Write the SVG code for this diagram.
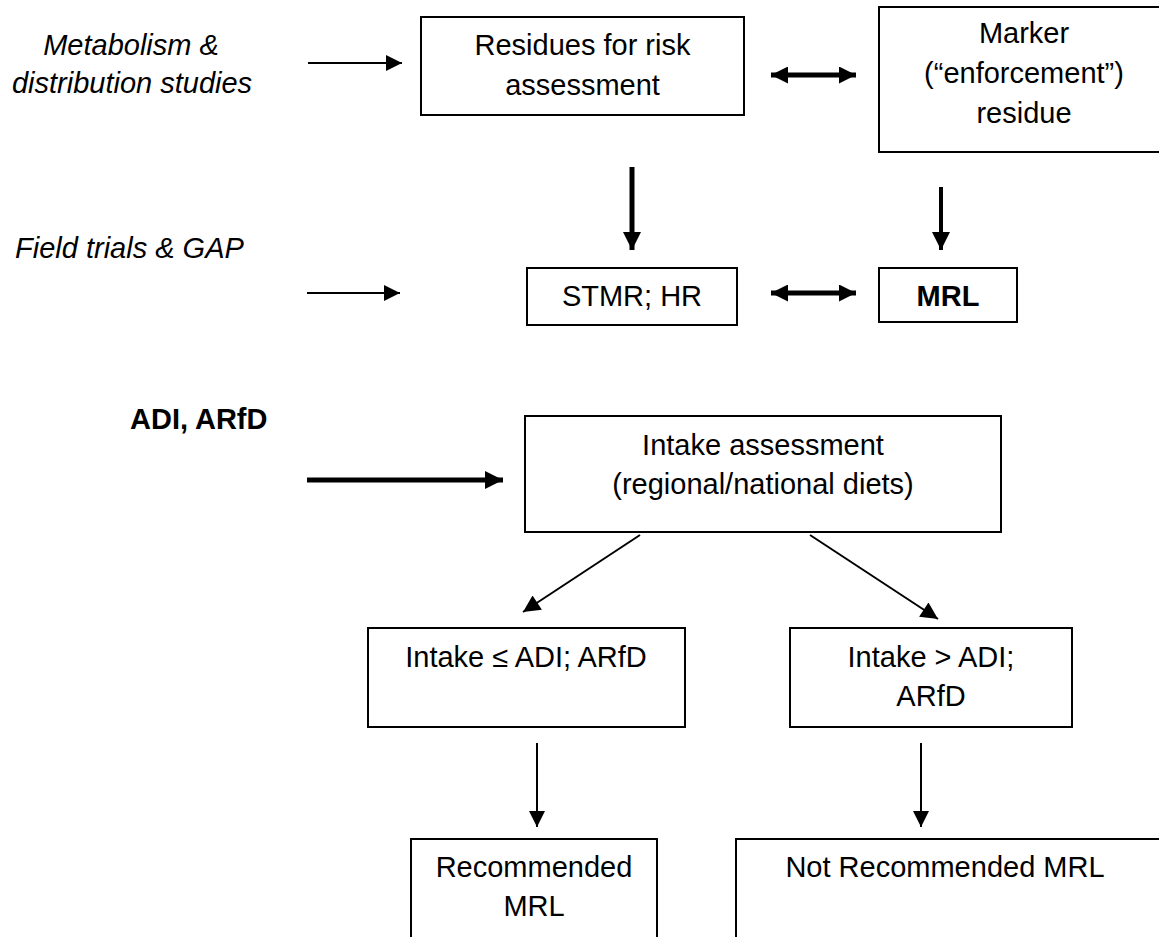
<svg xmlns="http://www.w3.org/2000/svg" width="1159" height="937" viewBox="0 0 1159 937">
<defs>
<style>
.box{fill:#fff;stroke:#000;stroke-width:2}
text{font-family:"Liberation Sans",Arial,sans-serif;font-size:29px;fill:#000}
.c{text-anchor:middle}
.i{font-style:italic}
.b{font-weight:bold}
.thin{stroke:#000;stroke-width:2;fill:none}
.thick{stroke:#000;stroke-width:5;fill:none}
.mid{stroke:#000;stroke-width:4;fill:none}
</style>
<marker id="ah" viewBox="0 0 10 10" refX="10" refY="5" markerUnits="userSpaceOnUse" markerWidth="16" markerHeight="16" orient="auto-start-reverse">
<path d="M0,0 L10,5 L0,10 z" fill="#000"/>
</marker>
<marker id="ahd" viewBox="0 0 10 10" refX="10" refY="5" markerUnits="userSpaceOnUse" markerWidth="19" markerHeight="17" orient="auto-start-reverse">
<path d="M0,0 L10,5 L0,10 z" fill="#000"/>
</marker>
<marker id="ahb" viewBox="0 0 10 10" refX="10" refY="5" markerUnits="userSpaceOnUse" markerWidth="18" markerHeight="18" orient="auto-start-reverse">
<path d="M0,0 L10,5 L0,10 z" fill="#000"/>
</marker>
</defs>
<rect width="1159" height="937" fill="#fff"/>

<g id="label-metabolism">
<text class="i c" x="131" y="55">Metabolism &amp;</text>
<text class="i c" x="132" y="93">distribution studies</text>
</g>
<g id="label-field">
<text class="i" x="15" y="258">Field trials &amp; GAP</text>
</g>
<g id="label-adi">
<text class="b" x="130" y="429">ADI, ARfD</text>
</g>

<g id="node-residues">
<rect class="box" x="421" y="17" width="323" height="98"/>
<text class="c" x="582.5" y="55">Residues for risk</text>
<text class="c" x="582.5" y="95">assessment</text>
</g>
<g id="node-marker">
<rect class="box" x="879" y="7" width="292" height="145"/>
<text class="c" x="1024" y="43">Marker</text>
<text class="c" x="1024" y="83">(“enforcement”)</text>
<text class="c" x="1024" y="123">residue</text>
</g>
<g id="node-stmr">
<rect class="box" x="527" y="268" width="210" height="57"/>
<text class="c" x="632" y="306">STMR; HR</text>
</g>
<g id="node-mrl">
<rect class="box" x="879" y="268" width="138" height="54"/>
<text class="c b" x="948" y="306">MRL</text>
</g>
<g id="node-intake">
<rect class="box" x="525" y="416" width="476" height="116"/>
<text class="c" x="763" y="455">Intake assessment</text>
<text class="c" x="763" y="494">(regional/national diets)</text>
</g>
<g id="node-below">
<rect class="box" x="368" y="628" width="317" height="99"/>
<text class="c" x="526" y="667">Intake ≤ ADI; ARfD</text>
</g>
<g id="node-above">
<rect class="box" x="790" y="628" width="282" height="99"/>
<text class="c" x="931" y="667">Intake &gt; ADI;</text>
<text class="c" x="931" y="706">ARfD</text>
</g>
<g id="node-recommended">
<rect class="box" x="411" y="839" width="246" height="120"/>
<text class="c" x="534" y="877">Recommended</text>
<text class="c" x="534" y="916">MRL</text>
</g>
<g id="node-not-recommended">
<rect class="box" x="736" y="839" width="430" height="120"/>
<text class="c" x="945" y="877">Not Recommended MRL</text>
</g>

<g id="connectors">
<line class="thin" x1="308" y1="63" x2="402" y2="63" marker-end="url(#ah)"/>
<line class="thin" x1="307" y1="293" x2="400" y2="293" marker-end="url(#ah)"/>
<line class="thick" x1="307" y1="480" x2="503" y2="480" marker-end="url(#ahb)"/>
<line class="thick" x1="771" y1="75" x2="856" y2="75" marker-start="url(#ahd)" marker-end="url(#ahd)"/>
<line class="thick" x1="771" y1="293" x2="856" y2="293" marker-start="url(#ahd)" marker-end="url(#ahd)"/>
<line class="thick" x1="632" y1="167" x2="632" y2="250" marker-end="url(#ahb)"/>
<line class="mid" x1="941" y1="187" x2="941" y2="250" marker-end="url(#ahb)"/>
<line class="thin" x1="640" y1="535" x2="523" y2="612" marker-end="url(#ahd)"/>
<line class="thin" x1="810" y1="535" x2="938" y2="619" marker-end="url(#ahd)"/>
<line class="thin" x1="537" y1="743" x2="537" y2="827" marker-end="url(#ah)"/>
<line class="thin" x1="921" y1="743" x2="921" y2="827" marker-end="url(#ah)"/>
</g>
</svg>
